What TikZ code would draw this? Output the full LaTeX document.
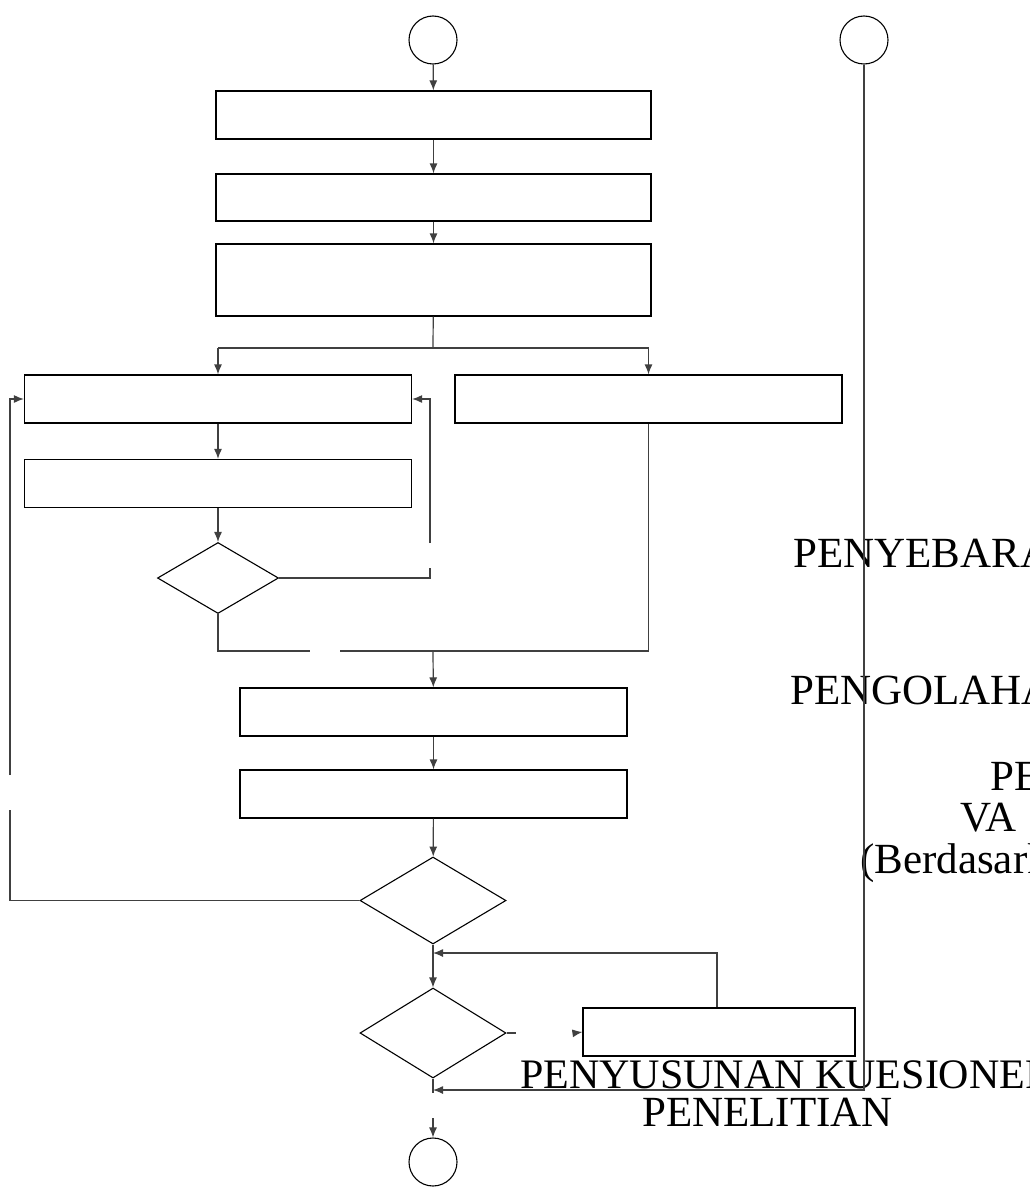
\documentclass[tikz,border=0pt]{standalone}
\usepackage{fontspec}
\setmainfont{Liberation Serif}
\usetikzlibrary{arrows.meta,shapes.geometric}
\begin{document}
\begin{tikzpicture}[x=1pt,y=-1pt,
  stepbox/.style={draw=black,line width=1.2pt,rectangle,inner sep=0pt,minimum width=387pt,minimum height=48pt},
  widebox/.style={stepbox,minimum width=435pt},
  decision/.style={draw=black,line width=1.1pt,diamond,inner sep=0pt,minimum width=146pt,minimum height=87pt},
  term/.style={draw=black,line width=1.1pt,circle,inner sep=0pt,minimum size=48pt},
  conn/.style={draw=black!75,line width=1.2pt},
  arr/.style={conn,-{Latex[length=10pt,width=8pt]}},
  lbl/.style={font=\fontsize{43}{50}\selectfont,anchor=base west,inner sep=0pt,text=black}]
\useasboundingbox (0,0) rectangle (1029,1188);
\clip (0,0) rectangle (1029,1188);
\fill[white] (0,0) rectangle (1029,1188);

% side texts
\node[lbl] (t1) at (793,567) {PENYEBARA};
\node[lbl] (t2) at (790,704) {PENGOLAHA};
\node[lbl] (t3) at (990,790) {PE};
\node[lbl] (t4) at (960,831) {VA};
\node[lbl] (t5) at (860,873) {(Berdasarkan};
\node[lbl,font=\fontsize{42}{50}\selectfont] (t6) at (520,1088) {PENYUSUNAN KUESIONER};
\node[lbl] (t7) at (642,1126) {PENELITIAN};

% nodes
\node[term] (c1) at (433,40) {};
\node[term] (c2) at (864,40) {};
\node[widebox] (b1) at (433.5,115) {};
\node[widebox,minimum height=47pt] (b2) at (433.5,197.5) {};
\node[widebox,minimum height=72pt] (b3) at (433.5,280) {};
\node[stepbox] (b4) at (218,399) {};
\node[stepbox] (b5) at (648.5,399) {};
\node[stepbox] (b6) at (218,483.5) {};
\node[decision,minimum width=121pt,minimum height=71pt] (d1) at (218,578) {};
\node[stepbox] (b7) at (433.5,712) {};
\node[stepbox] (b8) at (433.5,794) {};
\node[decision] (d2) at (433,900.5) {};
\node[decision,minimum height=90pt] (d3) at (433,1033) {};
\node[stepbox,minimum width=272pt] (b9) at (719,1032) {};
\node[term] (c3) at (433,1162) {};

\coordinate (split) at (433,348);
\coordinate (join) at (433,651);

% connectors
\draw[arr] (c1) -- (b1);
\draw[arr] (b1) -- (b2);
\draw[arr] (b2) -- (b3);
\draw[conn] (b3) -- (split);
\draw[conn] (b4.north |- split) -- (b5.north |- split);
\draw[arr] (b4.north |- split) -- (b4.north);
\draw[arr] (b5.north |- split) -- (b5.north);
\draw[arr] (b4) -- (b6);
\draw[arr] (b6) -- (d1);
% d1 branches
\draw[conn] (d1.east) -- (430,578) -- (430,568);
\draw[arr] (430,543) -- (430,399) -- (b4.east);
\draw[conn] (d1.south) -- (d1.south |- join) -- (310,651);
\draw[conn] (340,651) -- (b5.south |- join) -- (b5.south);
\draw[arr] (join) -- (b7);
\draw[arr] (b7) -- (b8);
\draw[arr] (b8) -- (d2);
% left loop
\draw[conn] (d2.west) -- (10,900.5) -- (10,810);
\draw[arr] (10,775) -- (10,399) -- (b4.west);
\draw[arr] (d2) -- (d3);
% d3 right branch
\draw[conn] (d3.east) -- (516,1033);
\draw[arr] (575,1033) -- (b9.west);
\draw[arr] (b9.north -| 717,0) -- (717,953) -- (433,953);
\draw[conn] (d3.south) -- (433,1093);
% right line
\draw[arr] (c2.south) -- (864,1090) -- (433,1090);
\draw[arr] (433,1118) -- (c3.north);
\end{tikzpicture}
\end{document}
